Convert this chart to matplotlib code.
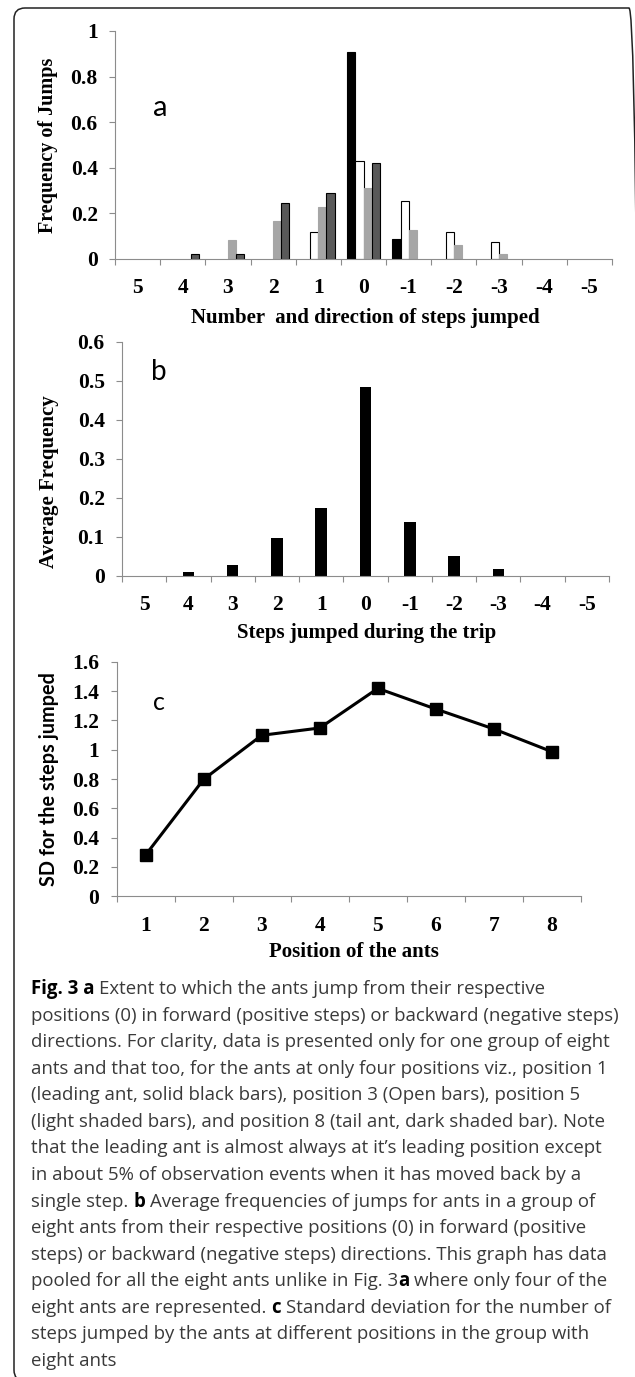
import matplotlib
matplotlib.use('Agg')
import matplotlib.pyplot as plt
import numpy as np
from matplotlib.patches import FancyBboxPatch

# panel a: jump frequencies for four positions of one group of eight ants
steps = ['5', '4', '3', '2', '1', '0', '-1', '-2', '-3', '-4', '-5']
pos1 = [0, 0, 0, 0, 0, 0.907, 0.089, 0, 0, 0, 0]
pos3 = [0, 0, 0, 0, 0.117, 0.428, 0.254, 0.118, 0.076, 0, 0]
pos5 = [0, 0, 0.082, 0.166, 0.229, 0.311, 0.127, 0.063, 0.022, 0, 0]
pos8 = [0, 0.022, 0.022, 0.244, 0.289, 0.420, 0, 0, 0, 0, 0]

# panel b: pooled average frequency
avg_freq = [0, 0.0085, 0.028, 0.097, 0.173, 0.485, 0.138, 0.050, 0.017, 0, 0]

# panel c: SD of steps jumped per position
positions = ['1', '2', '3', '4', '5', '6', '7', '8']
sd_steps = [0.282, 0.798, 1.098, 1.148, 1.418, 1.277, 1.141, 0.986]

W, H = 635, 1377
fig = plt.figure(figsize=(W / 100, H / 100), dpi=100)

SERIF = 'Liberation Serif'
TICK_FS = 15.5
LAB_FS = 15
GRAY = '#8c8c8c'


def px_axes(left, right, y0, ytop):
    return fig.add_axes([left / W, 1 - y0 / H, (right - left) / W, (y0 - ytop) / H])


def style(ax, ncat, labels, ylim, yticks, ylabels):
    for s in ['top', 'right']:
        ax.spines[s].set_visible(False)
    for s in ['left', 'bottom']:
        ax.spines[s].set_color(GRAY)
        ax.spines[s].set_linewidth(0.8)
    ax.set_xlim(0, ncat)
    ax.set_ylim(*ylim)
    ax.set_xticks(np.arange(ncat + 1))
    ax.set_xticklabels([])
    ax.set_xticks(np.arange(ncat) + 0.5, minor=True)
    ax.set_xticklabels(labels, minor=True, fontsize=TICK_FS, family=SERIF, weight='bold')
    ax.tick_params(axis='x', which='major', length=4.5, width=0.8, color=GRAY, direction='out')
    ax.tick_params(axis='x', which='minor', length=0, pad=14)
    ax.set_yticks(yticks)
    ax.set_yticklabels(ylabels, fontsize=TICK_FS, family=SERIF, weight='bold')
    ax.tick_params(axis='y', length=4.5, width=0.8, color=GRAY, direction='out', pad=8)


x = np.arange(len(steps)) + 0.5

# ---- panel a
ax1 = px_axes(115, 612, 259, 31)
w = 0.18
series = [(pos1, 'black', 'black'), (pos3, 'white', 'black'),
          (pos5, '#a6a6a6', '#a6a6a6'), (pos8, '#595959', 'black')]
for i, (vals, fc, ec) in enumerate(series):
    lws = [0.8 if v > 0 else 0 for v in vals]
    ax1.bar(x + (i - 1.5) * w, vals, w, color=fc, edgecolor=ec, linewidth=lws)
style(ax1, 11, steps, (0, 1), [0, 0.2, 0.4, 0.6, 0.8, 1],
      ['0', '0.2', '0.4', '0.6', '0.8', '1'])
fig.text(160 / W, 1 - 108 / H, 'a', fontsize=21, family='Lato', ha='center', va='center')
fig.text(48 / W, 1 - 145 / H, 'Frequency of Jumps', rotation=90, fontsize=14.5,
         family=SERIF, weight='bold', ha='center', va='center')
fig.text(365 / W, 1 - 318 / H, 'Number  and direction of steps jumped', fontsize=LAB_FS,
         family=SERIF, weight='bold', ha='center', va='center')

# ---- panel b
ax2 = px_axes(122, 609, 575.7, 341.7)
ax2.bar(x, avg_freq, 0.26, color='black')
style(ax2, 11, steps, (0, 0.6), [0, 0.1, 0.2, 0.3, 0.4, 0.5, 0.6],
      ['0', '0.1', '0.2', '0.3', '0.4', '0.5', '0.6'])
fig.text(159 / W, 1 - 372 / H, 'b', fontsize=20, family='Lato', ha='center', va='center')
fig.text(49 / W, 1 - 482 / H, 'Average Frequency', rotation=90, fontsize=15,
         family=SERIF, weight='bold', ha='center', va='center')
fig.text(367 / W, 1 - 633 / H, 'Steps jumped during the trip', fontsize=LAB_FS,
         family=SERIF, weight='bold', ha='center', va='center')

# ---- panel c
ax3 = px_axes(116.6, 581, 896.3, 661.7)
xc = np.arange(len(positions)) + 0.5
ax3.plot(xc, sd_steps, color='black', lw=2.2, marker='s', markersize=8.5)
style(ax3, 8, positions, (0, 1.6), [0, 0.2, 0.4, 0.6, 0.8, 1, 1.2, 1.4, 1.6],
      ['0', '0.2', '0.4', '0.6', '0.8', '1', '1.2', '1.4', '1.6'])
fig.text(159 / W, 1 - 703 / H, 'c', fontsize=18, family='Lato', ha='center', va='center')
fig.text(49 / W, 1 - 779 / H, 'SD for the steps jumped', rotation=90, fontsize=14.3,
         family='Lato', weight='bold', ha='center', va='center')
fig.text(354 / W, 1 - 952 / H, 'Position of the ants', fontsize=LAB_FS,
         family=SERIF, weight='bold', ha='center', va='center')

# ---- caption
CAP_FS = 13.4
CAP_FAMILY = 'Open Sans'
renderer = fig.canvas.get_renderer()


def seg_width(txt, bold):
    t = fig.text(0, 0, txt, fontsize=CAP_FS, family=CAP_FAMILY,
                 weight='bold' if bold else 'normal')
    wpx = t.get_window_extent(renderer).width
    t.remove()
    return wpx


space_w = seg_width('a a', False) - seg_width('aa', False)

caption = [
    [('Fig. 3 a', True), (' Extent to which the ants jump from their respective', False)],
    [('positions (0) in forward (positive steps) or backward (negative steps)', False)],
    [('directions. For clarity, data is presented only for one group of eight', False)],
    [('ants and that too, for the ants at only four positions viz., position 1', False)],
    [('(leading ant, solid black bars), position 3 (Open bars), position 5', False)],
    [('(light shaded bars), and position 8 (tail ant, dark shaded bar). Note', False)],
    [('that the leading ant is almost always at it\u2019s leading position except', False)],
    [('in about 5% of observation events when it has moved back by a', False)],
    [('single step. ', False), ('b', True), (' Average frequencies of jumps for ants in a group of', False)],
    [('eight ants from their respective positions (0) in forward (positive', False)],
    [('steps) or backward (negative steps) directions. This graph has data', False)],
    [('pooled for all the eight ants unlike in Fig. 3', False), ('a', True),
     (' where only four of the', False)],
    [('eight ants are represented. ', False), ('c', True),
     (' Standard deviation for the number of', False)],
    [('steps jumped by the ants at different positions in the group with', False)],
    [('eight ants', False)],
]

y = 994
for line in caption:
    xpos = 31
    for txt, bold in line:
        lead = len(txt) - len(txt.lstrip(' '))
        trail = len(txt) - len(txt.rstrip(' '))
        core = txt.strip(' ')
        xpos += lead * space_w
        fig.text(xpos / W, 1 - y / H, core, fontsize=CAP_FS, family=CAP_FAMILY,
                 weight='bold' if bold else 'normal',
                 color='black' if bold else '#3a3a3a', va='baseline', ha='left')
        xpos += seg_width(core, bold) + trail * space_w
    y += 26.57

# ---- frame
frame = FancyBboxPatch((14 / 100, -4 / 100), 626 / 100, (1369 + 4) / 100,
                       boxstyle='round,pad=0,rounding_size=0.11',
                       transform=fig.dpi_scale_trans, fill=False,
                       edgecolor='#222222', linewidth=1.1)
fig.patches.append(frame)

fig.savefig('out.png', dpi=100)
